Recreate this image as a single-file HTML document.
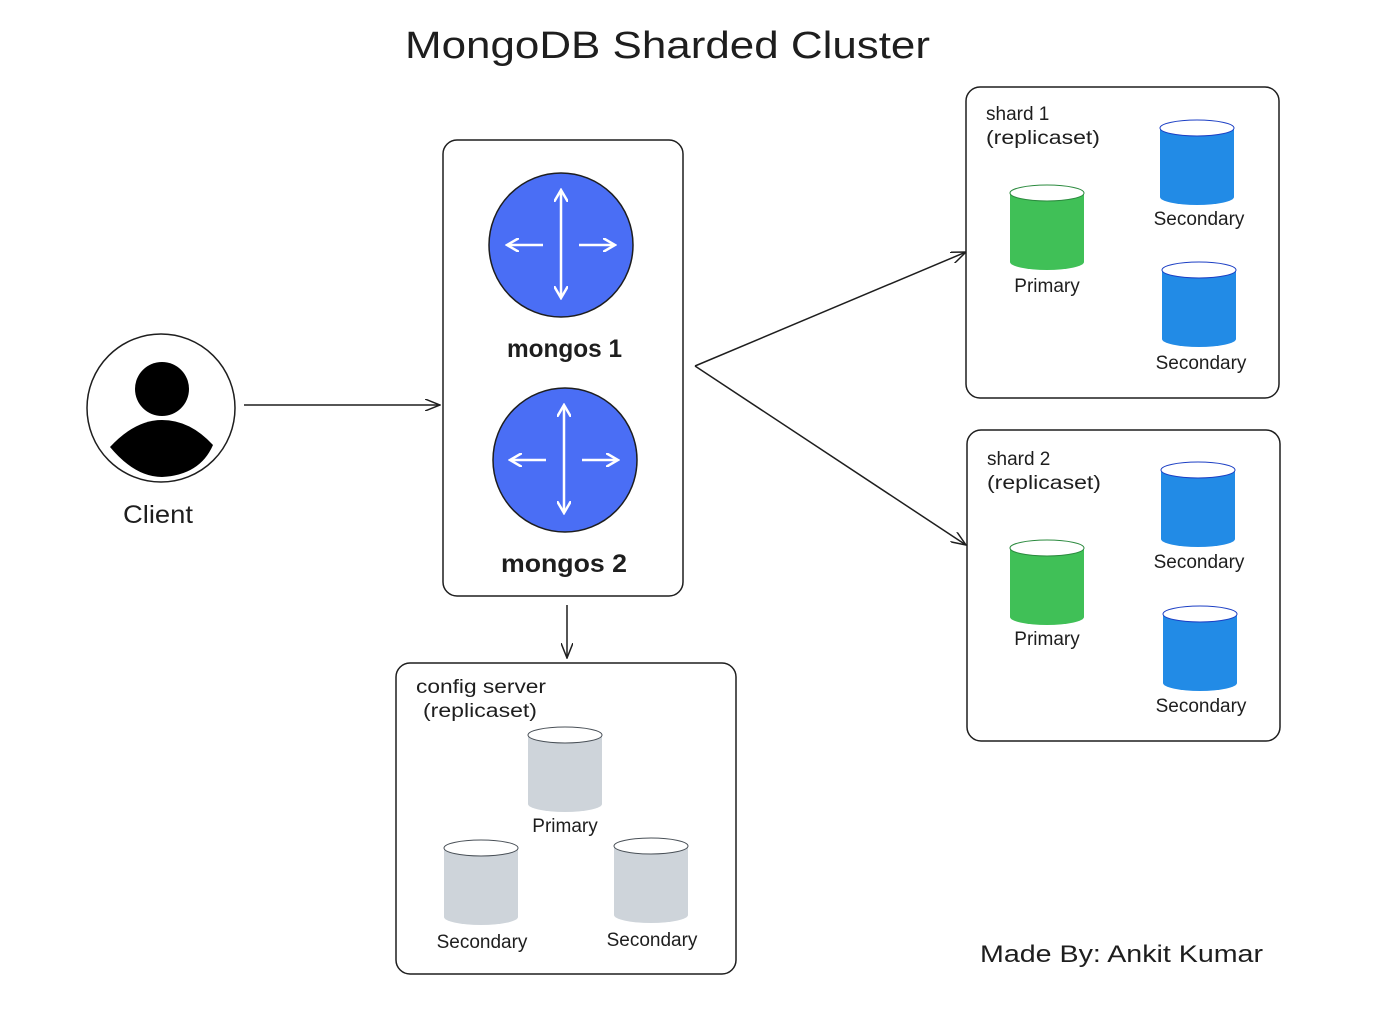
<!DOCTYPE html>
<html><head><meta charset="utf-8"><style>
html,body{margin:0;padding:0;background:#fff;}
svg text{font-family:"Liberation Sans",sans-serif;fill:#1e1e1e;}
</style></head><body>
<svg width="1400" height="1010" viewBox="0 0 1400 1010" xmlns="http://www.w3.org/2000/svg">
<defs>
<marker id="ah" markerWidth="16" markerHeight="12" refX="15" refY="6" orient="auto" markerUnits="userSpaceOnUse">
<path d="M0,0 L15,6 L0,12" fill="none" stroke="#1e1e1e" stroke-width="1.5"/>
</marker>
<marker id="wh" markerWidth="14" markerHeight="14" refX="12" refY="7" orient="auto-start-reverse" markerUnits="userSpaceOnUse">
<path d="M0,0 L12,7 L0,14" fill="none" stroke="#fff" stroke-width="2.5"/>
</marker>
<g id="cyl">
<path d="M0,8 L0,77 A37,8 0 0 0 74,77 L74,8" stroke="none"/>
<ellipse cx="37" cy="8" rx="37" ry="8" fill="#fff"/>
</g>
</defs>
<text x="405" y="58" font-size="38" textLength="525" lengthAdjust="spacingAndGlyphs">MongoDB Sharded Cluster</text>

<circle cx="161" cy="408" r="74" fill="#fff" stroke="#1e1e1e" stroke-width="1.5"/>
<circle cx="162" cy="389" r="27" fill="#000"/>
<path d="M110,447 Q135,420 162,420 Q190,420 213,445 Q200,475 162,477 Q135,477 110,447 Z" fill="#000"/>
<text x="123" y="523" font-size="25" textLength="70" lengthAdjust="spacingAndGlyphs">Client</text>
<line x1="244" y1="405" x2="440" y2="405" stroke="#1e1e1e" stroke-width="1.5" marker-end="url(#ah)"/>

<rect x="443" y="140" width="240" height="456" rx="14" fill="#fff" stroke="#1e1e1e" stroke-width="1.5"/>
<circle cx="561" cy="245" r="72" fill="#4a6ef5" stroke="#1e1e1e" stroke-width="1.5"/>
<line x1="561" y1="190" x2="561" y2="298" stroke="#fff" stroke-width="2.5" marker-end="url(#wh)" marker-start="url(#wh)" />
<line x1="543" y1="245" x2="507" y2="245" stroke="#fff" stroke-width="2.5" marker-end="url(#wh)"/>
<line x1="579" y1="245" x2="615" y2="245" stroke="#fff" stroke-width="2.5" marker-end="url(#wh)"/>
<text x="507" y="357" font-size="25" font-weight="bold" textLength="115" lengthAdjust="spacingAndGlyphs">mongos 1</text>

<circle cx="565" cy="460" r="72" fill="#4a6ef5" stroke="#1e1e1e" stroke-width="1.5"/>
<line x1="564" y1="405" x2="564" y2="513" stroke="#fff" stroke-width="2.5" marker-end="url(#wh)" marker-start="url(#wh)"/>
<line x1="546" y1="460" x2="510" y2="460" stroke="#fff" stroke-width="2.5" marker-end="url(#wh)"/>
<line x1="582" y1="460" x2="618" y2="460" stroke="#fff" stroke-width="2.5" marker-end="url(#wh)"/>
<text x="501" y="572" font-size="25" font-weight="bold" textLength="126" lengthAdjust="spacingAndGlyphs">mongos 2</text>

<line x1="695" y1="366" x2="966" y2="252" stroke="#1e1e1e" stroke-width="1.5" marker-end="url(#ah)"/>
<line x1="695" y1="366" x2="966" y2="545" stroke="#1e1e1e" stroke-width="1.5" marker-end="url(#ah)"/>
<line x1="567" y1="605" x2="567" y2="658" stroke="#1e1e1e" stroke-width="1.5" marker-end="url(#ah)"/>

<rect x="966" y="87" width="313" height="311" rx="14" fill="#fff" stroke="#1e1e1e" stroke-width="1.5"/>
<text x="986" y="120" font-size="19">shard 1</text>
<text x="986" y="144" font-size="19" textLength="114" lengthAdjust="spacingAndGlyphs">(replicaset)</text>
<use href="#cyl" x="1010" y="185" fill="#40c057" stroke="#2b8a3e"/>
<use href="#cyl" x="1160" y="120" fill="#228be6" stroke="#1c3fc4"/>
<use href="#cyl" x="1162" y="262" fill="#228be6" stroke="#1c3fc4"/>
<text x="1047" y="292" font-size="19" text-anchor="middle">Primary</text>
<text x="1199" y="225" font-size="19" text-anchor="middle">Secondary</text>
<text x="1201" y="369" font-size="19" text-anchor="middle">Secondary</text>

<rect x="967" y="430" width="313" height="311" rx="14" fill="#fff" stroke="#1e1e1e" stroke-width="1.5"/>
<text x="987" y="465" font-size="19">shard 2</text>
<text x="987" y="489" font-size="19" textLength="114" lengthAdjust="spacingAndGlyphs">(replicaset)</text>
<use href="#cyl" x="1010" y="540" fill="#40c057" stroke="#2b8a3e"/>
<use href="#cyl" x="1161" y="462" fill="#228be6" stroke="#1c3fc4"/>
<use href="#cyl" x="1163" y="606" fill="#228be6" stroke="#1c3fc4"/>
<text x="1047" y="645" font-size="19" text-anchor="middle">Primary</text>
<text x="1199" y="568" font-size="19" text-anchor="middle">Secondary</text>
<text x="1201" y="712" font-size="19" text-anchor="middle">Secondary</text>

<rect x="396" y="663" width="340" height="311" rx="14" fill="#fff" stroke="#1e1e1e" stroke-width="1.5"/>
<text x="416" y="693" font-size="19" textLength="130" lengthAdjust="spacingAndGlyphs">config server</text>
<text x="423" y="717" font-size="19" textLength="114" lengthAdjust="spacingAndGlyphs">(replicaset)</text>
<use href="#cyl" x="528" y="727" fill="#ced4da" stroke="#495057"/>
<use href="#cyl" x="444" y="840" fill="#ced4da" stroke="#495057"/>
<use href="#cyl" x="614" y="838" fill="#ced4da" stroke="#495057"/>
<text x="565" y="832" font-size="19" text-anchor="middle">Primary</text>
<text x="482" y="948" font-size="19" text-anchor="middle">Secondary</text>
<text x="652" y="946" font-size="19" text-anchor="middle">Secondary</text>

<text x="980" y="962" font-size="24" textLength="283" lengthAdjust="spacingAndGlyphs">Made By: Ankit Kumar</text>
</svg>
</body></html>
